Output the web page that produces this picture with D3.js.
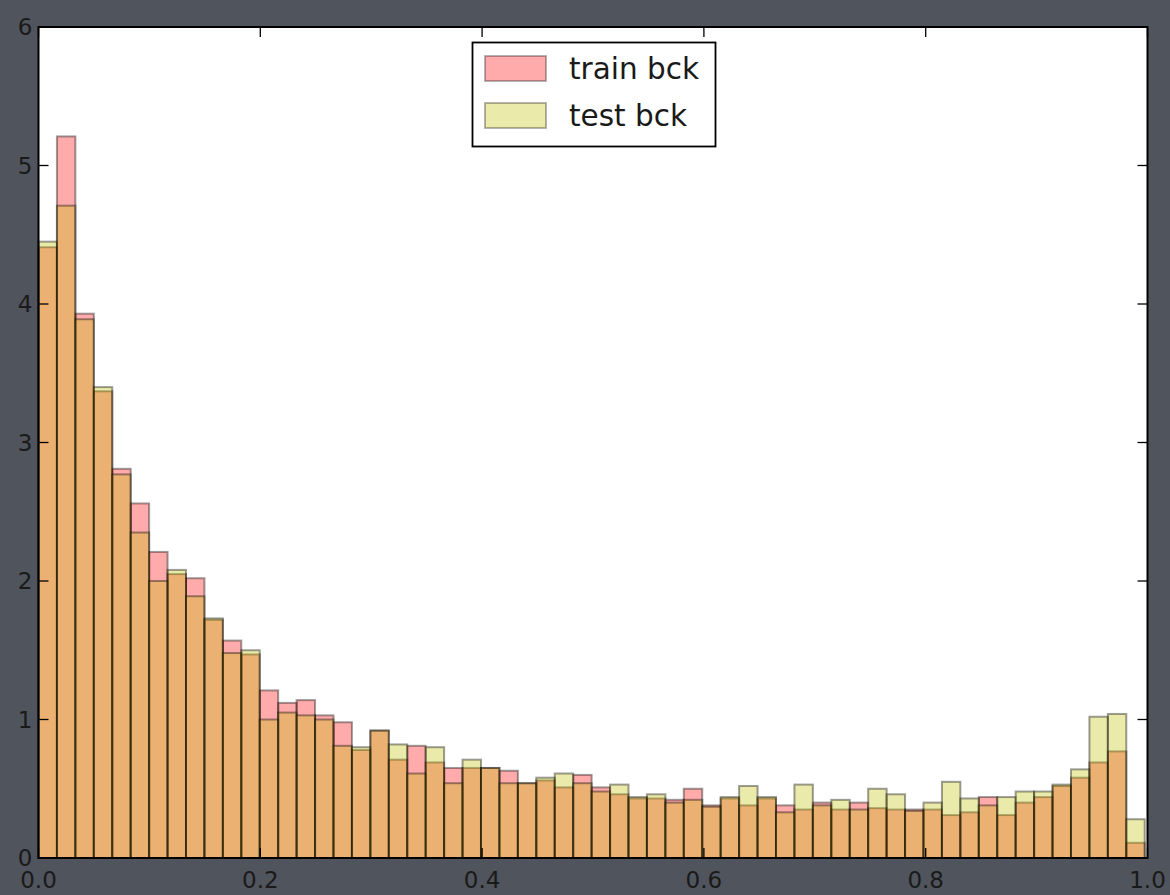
<!DOCTYPE html>
<html>
<head>
<meta charset="utf-8">
<script src="https://cdn.jsdelivr.net/npm/d3@7"></script>
<style>
  html, body { margin: 0; padding: 0; background: #50545c; }
  svg { display: block; }
  text { font-family: "DejaVu Sans", sans-serif; }
</style>
</head>
<body>
<svg id="chart" width="1170" height="895"></svg>
<script>
// ---- data ----
const seriesNames = ["train bck", "test bck"];
const binStart = 0.0;
const binEnd = 0.9975;
const trainValues = [4.41, 5.21, 3.93, 3.37, 2.81, 2.56, 2.21, 2.05, 2.02, 1.72,
  1.57, 1.47, 1.21, 1.12, 1.14, 1.03, 0.98, 0.78, 0.92, 0.71,
  0.81, 0.69, 0.65, 0.65, 0.65, 0.63, 0.54, 0.56, 0.51, 0.60,
  0.51, 0.46, 0.43, 0.43, 0.42, 0.50, 0.38, 0.43, 0.38, 0.43,
  0.38, 0.35, 0.40, 0.35, 0.40, 0.36, 0.35, 0.35, 0.35, 0.31,
  0.33, 0.44, 0.31, 0.40, 0.44, 0.52, 0.58, 0.69, 0.77, 0.11];
const testValues = [4.45, 4.71, 3.89, 3.40, 2.77, 2.35, 2.00, 2.08, 1.89, 1.73,
  1.48, 1.50, 1.00, 1.05, 1.03, 1.00, 0.81, 0.80, 0.92, 0.82,
  0.61, 0.80, 0.54, 0.71, 0.65, 0.54, 0.54, 0.58, 0.61, 0.54,
  0.48, 0.53, 0.44, 0.46, 0.40, 0.42, 0.37, 0.44, 0.52, 0.44,
  0.33, 0.53, 0.38, 0.42, 0.35, 0.50, 0.46, 0.34, 0.40, 0.55,
  0.43, 0.38, 0.44, 0.48, 0.48, 0.53, 0.64, 1.02, 1.04, 0.28];
const xTicks = [0.0, 0.2, 0.4, 0.6, 0.8, 1.0];
const xTickLabels = ["0.0", "0.2", "0.4", "0.6", "0.8", "1.0"];
const yTicks = [0, 1, 2, 3, 4, 5, 6];
const yTickLabels = ["0", "1", "2", "3", "4", "5", "6"];

// ---- layout ----
const L = 38.5, R = 1147.5, T = 27, B = 858;
const svg = d3.select("#chart");
const x = d3.scaleLinear().domain([0, 1]).range([L, R]);
const y = d3.scaleLinear().domain([0, 6]).range([B, T]);

// plot background
svg.append("rect").attr("x", L).attr("y", T).attr("width", R - L).attr("height", B - T).attr("fill", "#ffffff");

const nBins = trainValues.length;
const binW = (binEnd - binStart) / nBins;
function binData(vals) {
  return vals.map((v, i) => ({ x0: binStart + i * binW, x1: binStart + (i + 1) * binW, v }));
}

const seriesColors = ["rgb(255,0,0)", "rgb(191,191,0)"];
const alpha = 0.33;
[trainValues, testValues].forEach((vals, si) => {
  svg.append("g").selectAll("rect").data(binData(vals)).join("rect")
    .attr("x", d => x(d.x0))
    .attr("width", d => x(d.x1) - x(d.x0))
    .attr("y", d => y(d.v))
    .attr("height", d => y(0) - y(d.v))
    .attr("fill", seriesColors[si])
    .attr("fill-opacity", alpha)
    .attr("stroke", "#000")
    .attr("stroke-opacity", alpha + 0.05)
    .attr("stroke-width", 2);
});

// axes (ticks inside, on all sides)
const tickLen = 10;
const tickColor = "#000";
const axG = svg.append("g");
xTicks.forEach(t => {
  axG.append("line").attr("x1", x(t)).attr("x2", x(t)).attr("y1", B).attr("y2", B - tickLen).attr("stroke", tickColor).attr("stroke-width", 1.3);
  axG.append("line").attr("x1", x(t)).attr("x2", x(t)).attr("y1", T).attr("y2", T + tickLen).attr("stroke", tickColor).attr("stroke-width", 1.3);
});
yTicks.forEach(t => {
  axG.append("line").attr("x1", L).attr("x2", L + tickLen).attr("y1", y(t)).attr("y2", y(t)).attr("stroke", tickColor).attr("stroke-width", 1.3);
  axG.append("line").attr("x1", R).attr("x2", R - tickLen).attr("y1", y(t)).attr("y2", y(t)).attr("stroke", tickColor).attr("stroke-width", 1.3);
});
// frame
svg.append("rect").attr("x", L).attr("y", T).attr("width", R - L).attr("height", B - T)
  .attr("fill", "none").attr("stroke", "#000").attr("stroke-width", 2);

// tick labels
svg.append("g").selectAll("text").data(xTicks).join("text")
  .attr("x", d => x(d)).attr("y", B + 30)
  .attr("text-anchor", "middle").attr("font-size", 23).attr("fill", "#1a1a1a")
  .text((d, i) => xTickLabels[i]);
svg.append("g").selectAll("text").data(yTicks).join("text")
  .attr("x", L - 6).attr("y", d => y(d) + 8)
  .attr("text-anchor", "end").attr("font-size", 23).attr("fill", "#1a1a1a")
  .text((d, i) => yTickLabels[i]);

// legend
const lg = svg.append("g");
lg.append("rect").attr("x", 472.5).attr("y", 42.5).attr("width", 243).attr("height", 104)
  .attr("fill", "#fff").attr("stroke", "#000").attr("stroke-width", 1.8);
seriesNames.forEach((name, i) => {
  const yy = 56 + i * 47;
  lg.append("rect").attr("x", 485).attr("y", yy).attr("width", 61).attr("height", 25)
    .attr("fill", seriesColors[i]).attr("fill-opacity", alpha)
    .attr("stroke", "#000").attr("stroke-opacity", alpha).attr("stroke-width", 1.8);
  lg.append("text").attr("x", 569).attr("y", yy + 23)
    .attr("font-size", 29.5).attr("fill", "#1a1a1a").text(name);
});
</script>
</body>
</html>
